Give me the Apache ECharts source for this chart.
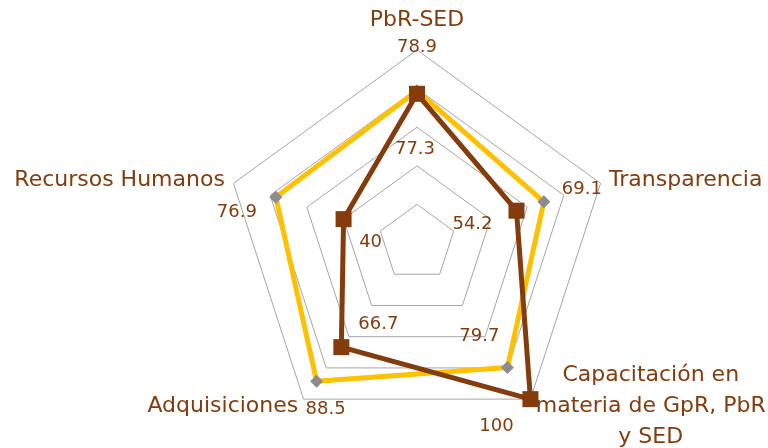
<!DOCTYPE html>
<html>
<head>
<meta charset="utf-8">
<script src="https://cdn.jsdelivr.net/npm/echarts@6/dist/echarts.min.js"></script>
<style>
  html, body { margin: 0; padding: 0; background: #fff; }
  #radarChart { width: 768px; height: 448px; }
</style>
</head>
<body>
<div id="radarChart"></div>
<script>
// indicadores (en el sentido del reloj, empezando arriba)
var indicators = [
  "PbR-SED",
  "Transparencia",
  "Capacitación en materia de GpR, PbR y SED",
  "Adquisiciones",
  "Recursos Humanos",
];
// serie amarilla (rombos grises)
var yellowValues = [78.9, 69.1, 79.7, 88.5, 76.9];
// serie café (cuadros)
var brownValues = [77.3, 54.2, 100, 66.7, 40];
var axisMax = 100;

var brown = "#843c0c";
var yellow = "#ffc000";

// desplazamiento de cada etiqueta respecto a su punto
var yellowLabelOffsets = [[0, -43], [38, -12], [-28, -31], [9, 28], [-39, 15]];
var brownLabelOffsets = [[-2, 56], [-44, 14], [-34, 27], [37, -23], [27, 23]];

// echarts dibuja el radar al revés del reloj: se invierte el orden
function clockwise(arr) {
  return [arr[0]].concat(arr.slice(1).reverse());
}

// un elemento invisible por etiqueta, para poder mover cada una
function labelItem(values, i, offset) {
  var target = values[i];
  return {
    value: clockwise(values),
    symbol: "circle",
    symbolSize: 1,
    itemStyle: { color: "rgba(0,0,0,0)" },
    lineStyle: { width: 0, opacity: 0 },
    label: {
      show: true,
      position: "inside",
      offset: offset,
      color: brown,
      fontSize: 18,
      fontFamily: "DejaVu Sans",
      formatter: function (p) {
        return p.value === target ? String(target) : "";
      },
    },
  };
}

var labelItems = [];
for (var i = 0; i < indicators.length; i++) {
  labelItems.push(labelItem(yellowValues, i, yellowLabelOffsets[i]));
  labelItems.push(labelItem(brownValues, i, brownLabelOffsets[i]));
}

var chartDom = document.getElementById("radarChart");
var myChart = echarts.init(chartDom);
var option;

option = {
  animation: false,
  radar: {
    center: [417, 243],
    radius: 193,
    startAngle: 90,
    shape: "polygon",
    splitNumber: 5,
    nameGap: 9,
    indicator: clockwise(indicators).map(function (name) {
      return { name: name, min: 0, max: axisMax };
    }),
    axisName: {
      color: brown,
      fontSize: 22,
      fontFamily: "DejaVu Sans",
      formatter: function (name) {
        if (name === "PbR-SED") {
          return "{top|" + name + "}";
        }
        if (name.indexOf("Capacitación") === 0) {
          return "{cap|Capacitación en}\n{cap|materia de GpR, PbR}\n{cap|y SED}";
        }
        return name;
      },
      rich: {
        top: { fontSize: 22, color: brown, padding: [0, 0, 10, 0] },
        cap: { fontSize: 22, color: brown, align: "center", lineHeight: 31 },
      },
    },
    axisLine: { show: false },
    axisTick: { show: false },
    axisLabel: { show: false },
    splitLine: { lineStyle: { color: "#a6a6a6", width: 1 } },
    splitArea: { show: false },
  },
  series: [
    {
      type: "radar",
      z: 2,
      silent: true,
      data: [
        {
          value: clockwise(yellowValues),
          symbol: "diamond",
          symbolSize: 13,
          itemStyle: { color: "#8c8c8c" },
          lineStyle: { color: yellow, width: 5 },
        },
        {
          value: clockwise(brownValues),
          symbol: "rect",
          symbolSize: 16,
          itemStyle: { color: brown },
          lineStyle: { color: brown, width: 5 },
        },
      ],
    },
    {
      type: "radar",
      z: 3,
      silent: true,
      data: labelItems,
    },
  ],
};

option && myChart.setOption(option);
</script>
</body>
</html>
